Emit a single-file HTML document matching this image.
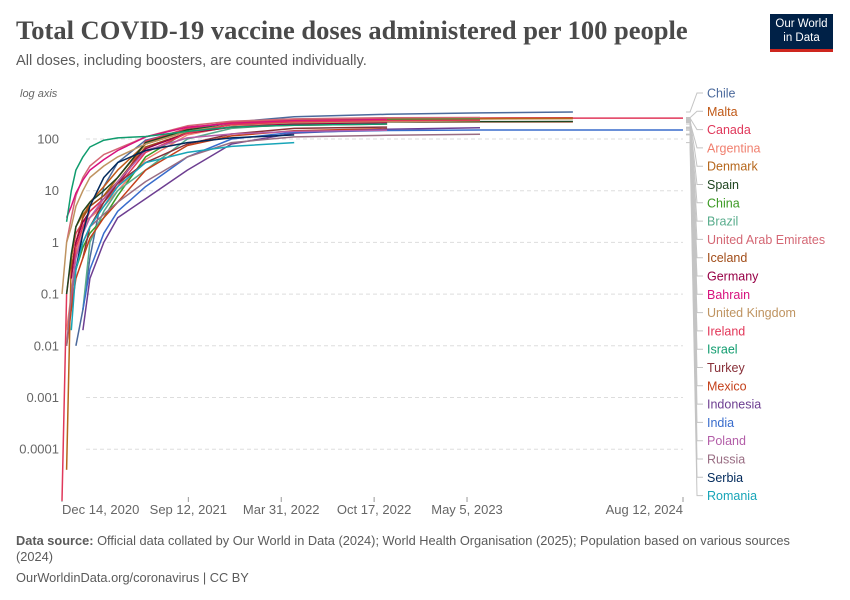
<!DOCTYPE html>
<html><head><meta charset="utf-8"><style>
body{margin:0;background:#fff;width:850px;height:600px;overflow:hidden;font-family:"Liberation Sans",sans-serif}
</style></head><body>
<div style="position:absolute;left:16px;top:15px;font-family:'Liberation Serif',serif;font-weight:bold;font-size:26.5px;color:#4a4a4a">Total COVID-19 vaccine doses administered per 100 people</div>
<div style="position:absolute;left:16px;top:53px;font-size:14.7px;color:#5b5b5b">All doses, including boosters, are counted individually.</div>
<div style="position:absolute;left:770px;top:14px;width:63px;height:38px;background:#002147;border-bottom:3px solid #ce261e;color:#fff;font-size:11.5px;line-height:14px;text-align:center;padding-top:3px;box-sizing:border-box">Our World<br>in Data</div>
<svg id="chart" width="850" height="600" style="position:absolute;left:0;top:0"></svg>
<div style="position:absolute;left:16px;top:533px;width:800px;font-size:12.8px;color:#5b5b5b;line-height:15.5px"><b>Data source:</b> Official data collated by Our World in Data (2024); World Health Organisation (2025); Population based on various sources (2024)</div>
<div style="position:absolute;left:16px;top:570px;font-size:12.8px;color:#5b5b5b">OurWorldinData.org/coronavirus | CC BY</div>
<script>
const days=[0,10,20,30,45,60,90,120,180,270,365,500,700,900,1100,1337];
const countries=["Chile","Malta","Canada","Argentina","Denmark","Spain","China","Brazil","United Arab Emirates","Iceland","Germany","Bahrain","United Kingdom","Ireland","Israel","Turkey","Mexico","Indonesia","India","Poland","Russia","Serbia","Romania"];
const colors=["#4c6a9c","#c05917","#e0385a","#f07f6e","#b5661b","#1f4620","#3c9a24","#58ac8c","#d46774","#a14c18","#970046","#d7127e","#bf9461","#e23658","#109c6e","#883039","#c4401a","#6d3e91","#386ccc","#b35ea8","#996d83","#00295b","#18a5b8"];
const N=null;
const chile=[N,N,N,0.01,0.05,0.5,12,35,95,150,210,270,300,320,333,N];
const malta=[N,N,0.3,1,3,6,12,25,80,140,190,225,245,255,258,N];
const canada=[0.00001,0.1,0.5,1.5,2.5,3,6,12,90,160,210,235,248,252,254,254];
const argentina=[N,0.02,0.1,0.6,2,3,5,10,40,120,175,205,212,213,213,N];
const denmark=[N,0.00004,0.5,2,3.5,5,8,18,80,140,190,225,238,245,248,N];
const spain=[N,0.1,0.6,2,4,6,10,18,85,150,190,208,214,217,218,N];
const china=[N,N,0.1,0.3,0.8,1.5,3,8,45,140,190,225,238,245,N,N];
const brazil=[N,N,N,N,0.05,1,4,10,25,100,160,195,215,228,N,N];
const uae=[N,1,3,8,18,30,50,65,110,180,220,245,258,260,N,N];
const iceland=[N,N,0.3,1,3,5,8,15,70,130,170,185,195,N,N,N];
const germany=[N,N,0.2,1,2.5,4,7,14,65,130,170,195,208,N,N,N];
const bahrain=[N,3,5,9,16,25,40,60,110,170,200,225,238,N,N,N];
const uk=[0.1,1,2,5,10,18,30,45,80,140,190,207,218,225,N,N];
const ireland=[N,N,0.05,0.8,2,4,7,12,55,130,190,215,228,232,N,N];
const israel=[N,2.5,10,25,45,70,95,105,112,140,170,185,195,N,N,N];
const turkey=[N,N,N,N,0.5,2,6,14,35,80,125,160,170,N,N,N];
const mexico=[N,0.01,0.05,0.2,0.5,1.2,3,6,25,75,115,145,158,N,N,N];
const indonesia=[N,N,N,N,0.02,0.2,1,3,7,25,80,130,155,165,N,N];
const india=[N,N,N,N,0.05,0.3,1.5,4,12,45,100,135,146,149,149,149];
const poland=[N,N,0.1,0.5,1.5,3,7,15,60,105,125,140,148,N,N,N];
const russia=[N,0.01,0.1,0.3,1,2,3.5,6,15,45,85,110,118,124,N,N];
const serbia=[N,N,N,0.3,1.5,5,18,35,60,85,105,120,N,N,N,N];
const romania=[N,N,0.02,0.3,1,2,5,12,35,55,72,85,N,N,N,N];
const series=[chile,malta,canada,argentina,denmark,spain,china,brazil,uae,iceland,germany,bahrain,uk,ireland,israel,turkey,mexico,indonesia,india,poland,russia,serbia,romania];
const yTicks=[100,10,1,0.1,0.01,0.001,0.0001];
const yTickLabels=["100","10","1","0.1","0.01","0.001","0.0001"];
const xTickDays=[0,272,472,672,872,1337];
const xTickLabels=["Dec 14, 2020","Sep 12, 2021","Mar 31, 2022","Oct 17, 2022","May 5, 2023","Aug 12, 2024"];

const svg=document.getElementById('chart');
const NS="http://www.w3.org/2000/svg";
const X0=62,X1=683,DMAX=1337;
const x=d=>X0+(X1-X0)*d/DMAX;
const y=v=>139-51.7*(Math.log10(v)-2);
function mk(t,a,p){const e=document.createElementNS(NS,t);for(const k in a)e.setAttribute(k,a[k]);(p||svg).appendChild(e);return e;}
let t=mk('text',{x:20,y:97,'font-size':11,'font-style':'italic',fill:'#666'});t.textContent='log axis';


yTicks.forEach((v,i)=>{
 const g=mk('line',{x1:86,x2:683,y1:y(v),y2:y(v),stroke:'#ddd','stroke-dasharray':'4,3'});
 
 
 const l=mk('text',{x:59,y:y(v)+4.5,'text-anchor':'end','font-size':13,fill:'#666'});l.textContent=yTickLabels[i];
 
 
});
xTickDays.forEach((d,i)=>{
 const tk=mk('line',{x1:x(d),x2:x(d),y1:497,y2:502,stroke:'#999'});
 
 
 const anchor=i==0?'start':(i==xTickDays.length-1?'end':'middle');
 const l=mk('text',{x:x(d),y:514,'text-anchor':anchor,'font-size':13,fill:'#666'});l.textContent=xTickLabels[i];
 
 
});
series.forEach((s,i)=>{
 let pts=[],last=null;
 s.forEach((v,j)=>{if(v!==null){pts.push(x(days[j]).toFixed(1)+','+y(v).toFixed(1));last=[days[j],v];}});
 const p=mk('polyline',{points:pts.join(' '),fill:'none',stroke:colors[i],'stroke-width':1.5,'stroke-linejoin':'round'});
 
 
 const ly=93+i*18.3;
 const c=mk('polyline',{points:`686,${y(last[1])} 690,${y(last[1])} 697,${ly} 703,${ly}`,fill:'none',stroke:'#c4c4c4','stroke-width':1});
 
 
 const l=mk('text',{x:707,y:ly+4.5,'font-size':12.5,fill:colors[i]});l.textContent=countries[i];
 
 
});
</script>
</body></html>
